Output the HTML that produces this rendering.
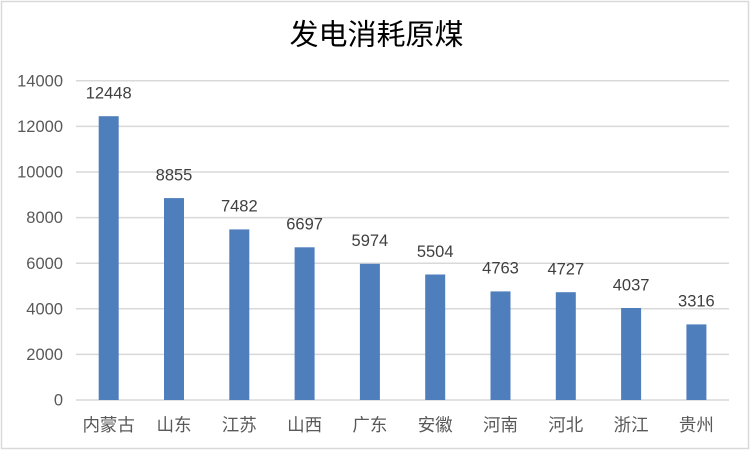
<!DOCTYPE html>
<html><head><meta charset="utf-8"><style>
html,body{margin:0;padding:0;background:#fff;}
svg{display:block;}
</style></head><body>
<svg width="752" height="452" viewBox="0 0 752 452" xmlns="http://www.w3.org/2000/svg">
<rect x="0" y="0" width="752" height="452" fill="#fff"/>
<rect x="1.5" y="1.5" width="747" height="447" fill="#fff" stroke="#d9d9d9" stroke-width="1.5"/>
<text x="376.5" y="44.5" text-anchor="middle" font-family="'Liberation Sans','Noto Sans CJK SC',sans-serif" font-size="29" fill="#000">发电消耗原煤</text>
<g stroke="#d9d9d9" stroke-width="1.5">
<line x1="76" x2="729" y1="80.8" y2="80.8"/>
<line x1="76" x2="729" y1="126.4" y2="126.4"/>
<line x1="76" x2="729" y1="172" y2="172"/>
<line x1="76" x2="729" y1="217.6" y2="217.6"/>
<line x1="76" x2="729" y1="263.2" y2="263.2"/>
<line x1="76" x2="729" y1="308.8" y2="308.8"/>
<line x1="76" x2="729" y1="354.4" y2="354.4"/>
<line x1="76" x2="729" y1="400" y2="400"/>
</g>
<g font-family="'Liberation Sans',sans-serif" font-size="16.5" fill="#595959" text-anchor="end">
<text x="63" y="86.5">14000</text>
<text x="63" y="132">12000</text>
<text x="63" y="177.6">10000</text>
<text x="63" y="223.2">8000</text>
<text x="63" y="268.8">6000</text>
<text x="63" y="314.4">4000</text>
<text x="63" y="360">2000</text>
<text x="63" y="405.6">0</text>
</g>
<g fill="#4f7ebd">
<rect x="98.7" y="116.2" width="20" height="283.8"/>
<rect x="164" y="198.1" width="20" height="201.9"/>
<rect x="229.3" y="229.4" width="20" height="170.6"/>
<rect x="294.6" y="247.3" width="20" height="152.7"/>
<rect x="359.9" y="263.8" width="20" height="136.2"/>
<rect x="425.2" y="274.5" width="20" height="125.5"/>
<rect x="490.5" y="291.4" width="20" height="108.6"/>
<rect x="555.8" y="292.2" width="20" height="107.8"/>
<rect x="621.1" y="308" width="20" height="92"/>
<rect x="686.4" y="324.4" width="20" height="75.6"/>
</g>
<g font-family="'Liberation Sans',sans-serif" font-size="16.5" fill="#404040" text-anchor="middle">
<text x="108.7" y="98.5">12448</text>
<text x="174" y="180.4">8855</text>
<text x="239.3" y="211.7">7482</text>
<text x="304.6" y="229.6">6697</text>
<text x="369.9" y="246.1">5974</text>
<text x="435.2" y="256.8">5504</text>
<text x="500.5" y="273.7">4763</text>
<text x="565.8" y="274.5">4727</text>
<text x="631.1" y="290.3">4037</text>
<text x="696.4" y="306.7">3316</text>
</g>
<g font-family="'Liberation Sans','Noto Sans CJK SC',sans-serif" font-size="17.5" fill="#595959" text-anchor="middle">
<text x="108.7" y="431">内蒙古</text>
<text x="174" y="431">山东</text>
<text x="239.3" y="431">江苏</text>
<text x="304.6" y="431">山西</text>
<text x="369.9" y="431">广东</text>
<text x="435.2" y="431">安徽</text>
<text x="500.5" y="431">河南</text>
<text x="565.8" y="431">河北</text>
<text x="631.1" y="431">浙江</text>
<text x="696.4" y="431">贵州</text>
</g>
</svg>
</body></html>
